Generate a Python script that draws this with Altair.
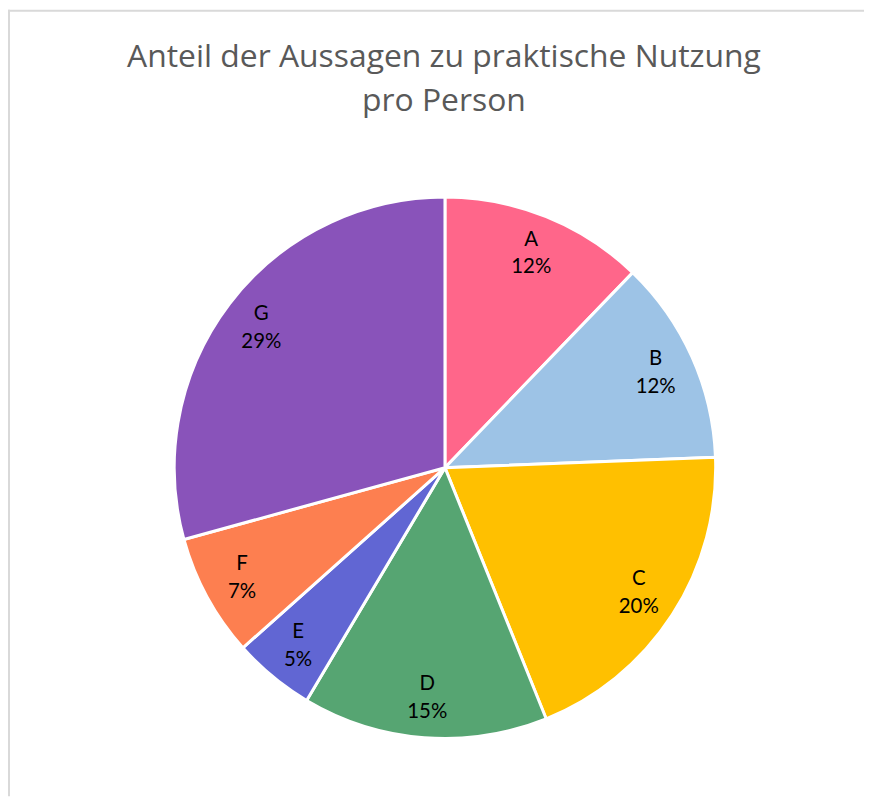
import altair as alt
import pandas as pd

# Data
categories = ["A", "B", "C", "D", "E", "F", "G"]
counts = [5, 5, 8, 6, 2, 3, 12]
colors = ["#FF668A", "#9DC3E6", "#FFC000", "#56A572", "#6166D3", "#FD7F50", "#8953BA"]
title_lines = ["Anteil der Aussagen zu praktische Nutzung", "pro Person"]

df = pd.DataFrame({"cat": categories, "n": counts, "order": list(range(len(categories)))})

W, H = 860, 790
CX, CY = 439, 460
R = 272
LR = 232

base = alt.Chart(df).transform_joinaggregate(
    total="sum(n)"
).transform_calculate(
    frac="datum.n / datum.total"
).encode(
    theta=alt.Theta("n:Q", stack=True),
    order=alt.Order("order:Q"),
    x=alt.value(CX),
    y=alt.value(CY),
)

color_scale = alt.Scale(domain=categories, range=colors)

arcs = base.mark_arc(outerRadius=R, stroke="white", strokeWidth=3).encode(
    color=alt.Color("cat:N", scale=color_scale, legend=None)
)

names = base.mark_text(
    radius=LR, dy=-14, font="Lato", fontSize=20.5, color="#000000", baseline="middle", align="center"
).encode(text="cat:N")

pcts = base.mark_text(
    radius=LR, dy=14, font="Lato", fontSize=20.5, color="#000000", baseline="middle", align="center"
).encode(text=alt.Text("frac:Q", format=".0%"))

title = alt.Chart(pd.DataFrame({"t": [0]})).mark_text(
    text=title_lines, font="Open Sans", fontSize=32, color="#595959",
    align="center", baseline="alphabetic", lineHeight=45
).encode(x=alt.value(438), y=alt.value(57))

top_line = alt.Chart(pd.DataFrame({"t": [0]})).mark_rule(color="#D9D9D9", strokeWidth=2).encode(
    x=alt.value(0), x2=alt.value(W), y=alt.value(1)
)
left_line = alt.Chart(pd.DataFrame({"t": [0]})).mark_rule(color="#D9D9D9", strokeWidth=2).encode(
    x=alt.value(1), y=alt.value(0), y2=alt.value(H)
)

chart = alt.layer(top_line, left_line, arcs, names, pcts, title).properties(
    width=W, height=H, padding=0, autosize=alt.AutoSizeParams(type="none"), background="white"
).configure_view(strokeWidth=0)

chart.save("out.html", embed_options={"renderer": "svg", "actions": False})
